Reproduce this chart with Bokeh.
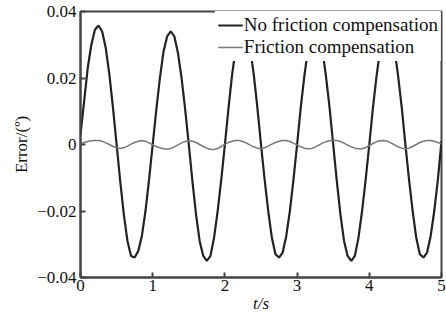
from bokeh.plotting import figure
from bokeh.models import Range1d, FixedTicker, Legend, LegendItem
from bokeh.embed import file_html
from bokeh.resources import INLINE

# time samples (s)
t = [0.00, 0.05, 0.10, 0.15, 0.20, 0.25, 0.30, 0.35, 0.40, 0.45,
     0.50, 0.55, 0.60, 0.65, 0.70, 0.75, 0.80, 0.85, 0.90, 0.95,
     1.00, 1.05, 1.10, 1.15, 1.20, 1.25, 1.30, 1.35, 1.40, 1.45,
     1.50, 1.55, 1.60, 1.65, 1.70, 1.75, 1.80, 1.85, 1.90, 1.95,
     2.00, 2.05, 2.10, 2.15, 2.20, 2.25, 2.30, 2.35, 2.40, 2.45,
     2.50, 2.55, 2.60, 2.65, 2.70, 2.75, 2.80, 2.85, 2.90, 2.95,
     3.00, 3.05, 3.10, 3.15, 3.20, 3.25, 3.30, 3.35, 3.40, 3.45,
     3.50, 3.55, 3.60, 3.65, 3.70, 3.75, 3.80, 3.85, 3.90, 3.95,
     4.00, 4.05, 4.10, 4.15, 4.20, 4.25, 4.30, 4.35, 4.40, 4.45,
     4.50, 4.55, 4.60, 4.65, 4.70, 4.75, 4.80, 4.85, 4.90, 4.95,
     5.00]

# error without friction compensation (deg)
err_no_comp = [0.003, 0.013, 0.023, 0.030, 0.0345, 0.0358, 0.034, 0.029, 0.021, 0.011,
               0.000, -0.011, -0.021, -0.029, -0.0335, -0.034, -0.032, -0.0275, -0.020, -0.0105,
               0.000, 0.0105, 0.020, 0.028, 0.0325, 0.034, 0.0325, 0.0275, 0.020, 0.0105,
               0.000, -0.011, -0.021, -0.029, -0.0335, -0.035, -0.0335, -0.028, -0.020, -0.0105,
               0.000, 0.011, 0.021, 0.029, 0.034, 0.0355, 0.034, 0.029, 0.021, 0.011,
               0.000, -0.0105, -0.020, -0.028, -0.033, -0.034, -0.0325, -0.0275, -0.020, -0.0105,
               0.000, 0.011, 0.0205, 0.0285, 0.0335, 0.035, 0.0335, 0.0285, 0.0205, 0.011,
               0.000, -0.011, -0.021, -0.029, -0.0335, -0.035, -0.0335, -0.028, -0.020, -0.0105,
               0.000, 0.011, 0.0205, 0.0285, 0.0335, 0.035, 0.0335, 0.0285, 0.0205, 0.011,
               0.000, -0.0105, -0.020, -0.028, -0.033, -0.034, -0.0325, -0.0275, -0.020, -0.0105,
               0.001]

# error with friction compensation (deg)
err_comp = [0.0003, 0.0006, 0.0009, 0.0011, 0.0012, 0.0012, 0.0010, 0.0005, 0.0000, -0.0006,
            -0.0010, -0.0012, -0.0010, -0.0005, 0.0001, 0.0006, 0.0010, 0.0012, 0.0010, 0.0005,
            -0.0001, -0.0006, -0.0010, -0.0013, -0.0014, -0.0012, -0.0007, -0.0001, 0.0005, 0.0009,
            0.0011, 0.0010, 0.0006, 0.0000, -0.0006, -0.0011, -0.0014, -0.0015, -0.0012, -0.0006,
            0.0001, 0.0006, 0.0010, 0.0012, 0.0012, 0.0009, 0.0004, -0.0002, -0.0007, -0.0011,
            -0.0012, -0.0010, -0.0005, 0.0001, 0.0006, 0.0010, 0.0012, 0.0012, 0.0009, 0.0004,
            -0.0002, -0.0007, -0.0011, -0.0013, -0.0012, -0.0008, -0.0002, 0.0004, 0.0008, 0.0011,
            0.0012, 0.0012, 0.0009, 0.0004, -0.0002, -0.0007, -0.0011, -0.0013, -0.0013, -0.0009,
            -0.0003, 0.0003, 0.0008, 0.0011, 0.0012, 0.0010, 0.0005, -0.0001, -0.0007, -0.0011,
            -0.0013, -0.0011, -0.0006, 0.0000, 0.0006, 0.0010, 0.0012, 0.0012, 0.0010, 0.0006,
            0.0002]

series_names = ["No friction compensation", "Friction compensation"]

x_ticks = [0, 1, 2, 3, 4, 5]
x_tick_labels = ["0", "1", "2", "3", "4", "5"]
y_ticks = [-0.04, -0.02, 0, 0.02, 0.04]
y_tick_labels = ["\u22120.04", "\u22120.02", "0", "0.02", "0.04"]

FONT = "Liberation Serif"
FS = "17px"

p = figure(width=446, height=320, output_backend="svg", toolbar_location=None,
           x_range=Range1d(0, 5), y_range=Range1d(-0.04, 0.04),
           min_border_left=80, min_border_right=5, min_border_top=11, min_border_bottom=43)

p.background_fill_color = "white"
p.border_fill_color = "white"
p.outline_line_color = "#444444"
p.outline_line_width = 2
p.grid.visible = False

r1 = p.line(t, err_no_comp, line_color="#222222", line_width=2.2)
r2 = p.line(t, err_comp, line_color="#777777", line_width=1.5)

for ax in (p.xaxis[0], p.yaxis[0]):
    ax.axis_line_color = "#444444"
    ax.axis_line_width = 2
    ax.major_tick_in = 5
    ax.major_tick_out = 0
    ax.major_tick_line_color = "#444444"
    ax.major_tick_line_width = 2
    ax.minor_tick_line_color = None
    ax.major_label_text_font = FONT
    ax.major_label_text_font_size = FS
    ax.major_label_text_color = "#111111"
    ax.major_label_standoff = 4

p.xaxis[0].ticker = FixedTicker(ticks=x_ticks)
p.xaxis[0].major_label_overrides = {v: s for v, s in zip(x_ticks, x_tick_labels)}
p.xaxis[0].major_label_standoff = 2
p.xaxis[0].axis_label = "t/s"
p.xaxis[0].axis_label_text_font = FONT
p.xaxis[0].axis_label_text_font_size = FS
p.xaxis[0].axis_label_text_font_style = "italic"
p.xaxis[0].axis_label_text_color = "#111111"
p.xaxis[0].axis_label_standoff = 0

p.yaxis[0].ticker = FixedTicker(ticks=y_ticks)
p.yaxis[0].major_label_overrides = {v: s for v, s in zip(y_ticks, y_tick_labels)}
p.yaxis[0].axis_label = "Error/(\u00ba)"
p.yaxis[0].axis_label_text_font = FONT
p.yaxis[0].axis_label_text_font_size = FS
p.yaxis[0].axis_label_text_font_style = "normal"
p.yaxis[0].axis_label_text_color = "#111111"
p.yaxis[0].axis_label_standoff = 3

legend = Legend(items=[LegendItem(label=series_names[0], renderers=[r1]),
                       LegendItem(label=series_names[1], renderers=[r2])],
                location="top_right", margin=0, padding=3, spacing=0,
                glyph_width=25, glyph_height=18, label_height=18, label_standoff=1,
                label_text_font=FONT, label_text_font_size="19px", label_text_color="#111111",
                background_fill_color="white", background_fill_alpha=1.0,
                border_line_alpha=0)
p.add_layout(legend)

open("out.html", "w").write(file_html(p, INLINE))
